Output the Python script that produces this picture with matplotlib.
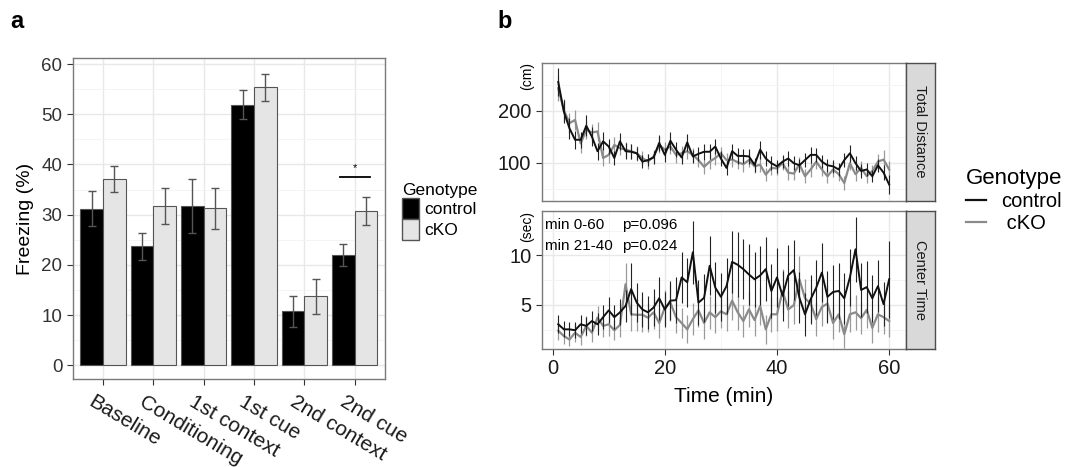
import matplotlib
matplotlib.use("Agg")
import matplotlib.pyplot as plt
import matplotlib.transforms as mtransforms
from matplotlib.patches import Patch
from matplotlib.lines import Line2D
import numpy as np

plt.rcParams['font.family'] = ['Liberation Sans', 'DejaVu Sans']

# ---- panel a: freezing ----
phases = ['Baseline', 'Conditioning', '1st context', '1st cue', '2nd context', '2nd cue']
ctrl_freeze = [31.2, 23.7, 31.7, 51.9, 10.8, 21.9]
ctrl_freeze_se = [3.5, 2.7, 5.4, 2.9, 3.1, 2.2]
cko_freeze = [37.2, 31.7, 31.3, 55.4, 13.8, 30.8]
cko_freeze_se = [2.6, 3.6, 4.1, 2.7, 3.5, 2.8]

# ---- panel b: open field, 1..60 min ----
minutes = list(range(1, 61))
ctrl_dist = [255, 198, 166, 144, 144, 171, 150, 122, 141, 131, 109, 141, 122, 121, 118, 102, 105, 110, 138, 115,
             142, 125, 110, 139, 112, 117, 121, 121, 131, 108, 90, 122, 113, 113, 112, 96, 125, 108, 99, 93,
             102, 108, 99, 95, 105, 115, 115, 102, 95, 93, 87, 105, 118, 99, 84, 87, 74, 95, 81, 58]
ctrl_dist_se = [26, 22, 20, 17, 15, 20, 18, 16, 17, 15, 14, 16, 15, 14, 13, 13, 12, 13, 15, 13,
                17, 14, 13, 16, 13, 14, 15, 14, 15, 14, 13, 14, 15, 14, 14, 13, 17, 14, 13, 12,
                13, 14, 13, 12, 13, 15, 14, 13, 13, 12, 13, 14, 16, 13, 14, 12, 12, 13, 14, 18]
cko_dist = [243, 201, 176, 182, 137, 163, 158, 160, 109, 115, 134, 128, 125, 122, 118, 109, 102, 112, 134, 125,
            131, 115, 118, 122, 115, 105, 92, 102, 109, 118, 105, 106, 101, 97, 105, 93, 96, 77, 90, 89,
            99, 81, 79, 97, 74, 87, 102, 87, 74, 87, 78, 61, 99, 78, 90, 74, 84, 102, 106, 87]
cko_dist_se = [24, 21, 19, 20, 18, 17, 16, 18, 16, 15, 15, 14, 15, 14, 14, 13, 14, 13, 15, 14,
               14, 15, 14, 15, 14, 13, 14, 15, 14, 13, 14, 15, 14, 14, 13, 13, 14, 13, 14, 13,
               14, 15, 13, 14, 13, 15, 14, 13, 13, 14, 13, 14, 14, 13, 14, 13, 12, 14, 18, 16]
ctrl_center = [3.04, 2.53, 2.53, 2.44, 3.04, 2.88, 3.37, 3.04, 3.76, 4.45, 3.76, 4.25, 4.90, 6.60, 5.23, 4.54,
               4.25, 4.74, 5.67, 4.54, 5.43, 5.48, 7.78, 7.29, 10.33, 5.23, 5.72, 8.96, 6.75, 5.82, 6.90, 9.35,
               9.06, 8.62, 8.08, 7.59, 7.98, 8.62, 6.41, 7.78, 5.92, 7.98, 8.52, 5.72, 4.05, 5.57, 6.75, 8.27,
               5.82, 6.31, 6.41, 5.67, 7.78, 10.63, 6.51, 6.80, 5.67, 6.90, 5.08, 7.59]
ctrl_center_se = [0.9, 0.8, 0.7, 0.8, 0.9, 0.9, 1.0, 1.1, 1.2, 1.3, 1.2, 1.3, 1.6, 2.6, 2.0, 1.8, 1.7, 1.9, 2.2, 1.8,
                  2.0, 2.3, 2.6, 2.5, 3.2, 2.3, 2.4, 3.0, 2.6, 2.4, 2.8, 3.1, 3.3, 3.0, 3.1, 2.8, 3.0, 3.2, 2.7, 3.0,
                  2.5, 3.1, 3.0, 2.6, 2.2, 2.5, 2.8, 3.0, 2.6, 2.7, 2.8, 2.6, 2.9, 3.3, 2.7, 2.6, 2.4, 2.6, 2.2, 3.9]
cko_center = [2.39, 1.85, 1.50, 2.19, 1.75, 2.88, 2.19, 3.71, 2.88, 3.04, 2.44, 2.97, 7.09, 4.05, 4.00, 4.00,
              3.71, 4.25, 3.17, 4.74, 5.23, 3.76, 3.17, 2.53, 3.56, 4.45, 3.17, 4.25, 3.76, 4.35, 4.05, 5.43,
              4.25, 3.37, 4.54, 3.47, 4.89, 2.53, 4.05, 4.05, 6.41, 4.54, 4.98, 7.59, 5.67, 5.13, 3.56, 4.79,
              5.13, 3.17, 4.05, 2.04, 4.05, 4.25, 3.66, 4.50, 2.68, 4.05, 3.76, 3.37]
cko_center_se = [0.9, 0.8, 0.7, 0.9, 0.8, 1.0, 0.9, 1.2, 1.1, 1.2, 1.0, 1.2, 2.2, 1.7, 1.6, 1.7, 1.5, 1.7, 1.5, 1.8,
                 1.9, 1.6, 1.5, 1.4, 1.6, 1.7, 1.6, 1.7, 1.6, 1.7, 1.7, 2.0, 1.8, 1.6, 1.8, 1.6, 1.9, 1.5, 1.8, 1.7,
                 2.2, 1.9, 1.9, 2.4, 2.0, 1.9, 1.7, 1.9, 1.9, 1.6, 1.8, 1.4, 1.8, 1.8, 1.6, 1.8, 1.5, 1.8, 1.7, 1.6]

W, H = 1073, 467
fig = plt.figure(figsize=(W / 100, H / 100), dpi=100)


def box(l, t, r, b):
    return [l / W, 1 - b / H, (r - l) / W, (b - t) / H]


def style_panel(ax):
    ax.set_facecolor('white')
    ax.grid(True, which='major', color='#e8e8e8', lw=1.0)
    ax.grid(True, which='minor', color='#f3f3f3', lw=0.6)
    ax.set_axisbelow(True)
    for s in ax.spines.values():
        s.set_color('#7a7a7a')
        s.set_linewidth(1.0)
    ax.tick_params(which='major', color='#333333', length=4, width=0.8)
    ax.tick_params(which='minor', length=0)


# ---------------- panel a ----------------
axa = fig.add_axes(box(72.7, 58, 385, 379))
style_panel(axa)
x = np.arange(len(phases))
bw = 0.45
axa.bar(x - bw / 2, ctrl_freeze, bw, color='black', edgecolor='#555555', lw=0.8, zorder=2)
axa.bar(x + bw / 2, cko_freeze, bw, color='#e5e5e5', edgecolor='#555555', lw=0.8, zorder=2)
axa.errorbar(x - bw / 2, ctrl_freeze, yerr=ctrl_freeze_se, fmt='none', ecolor='#555555',
             elinewidth=1.0, capsize=3, capthick=1.0, zorder=3)
axa.errorbar(x + bw / 2, cko_freeze, yerr=cko_freeze_se, fmt='none', ecolor='#555555',
             elinewidth=1.0, capsize=3, capthick=1.0, zorder=3)
axa.plot([4.70, 5.31], [37.6, 37.6], color='black', lw=1.3, zorder=3)
axa.text(5.0, 38.3, '*', ha='center', va='bottom', fontsize=8)
axa.set_xlim(-0.6, 5.6)
axa.set_ylim(-2.7, 61.2)
axa.set_yticks(range(0, 61, 10))
axa.set_yticks(range(5, 61, 10), minor=True)
axa.set_xticks(x)
axa.set_xticklabels(phases, rotation=-31, ha='left', va='top', rotation_mode='anchor', fontsize=15,
                    color='#1a1a1a')
off = mtransforms.ScaledTranslation(-0.08, -0.03, fig.dpi_scale_trans)
for lab in axa.get_xticklabels():
    lab.set_transform(lab.get_transform() + off)
axa.tick_params(axis='y', labelsize=13.5, labelcolor='#333333')
axa.set_ylabel('Freezing (%)', fontsize=14, labelpad=5)

fig.legend(handles=[Patch(facecolor='black', edgecolor='#555555'),
                    Patch(facecolor='#e5e5e5', edgecolor='#555555')],
           labels=['control', 'cKO'], title='Genotype', loc='upper left',
           bbox_to_anchor=(393 / W, 1 - 174 / H), frameon=False, fontsize=12.5,
           title_fontsize=12.5, handlelength=1.0, handleheight=1.5, handletextpad=0.3,
           labelspacing=0.0, borderpad=0, alignment='left')

# ---------------- panel b ----------------
axt = fig.add_axes(box(541.7, 62.7, 905.7, 200.7))
axc = fig.add_axes(box(541.7, 211, 905.7, 349))
for ax in (axt, axc):
    style_panel(ax)
    ax.set_xlim(-1.95, 62.95)
    ax.set_xticks([0, 20, 40, 60])
    ax.set_xticks([10, 30, 50], minor=True)
    ax.tick_params(axis='y', labelsize=14.5, labelcolor='#1a1a1a')

axt.errorbar(minutes, cko_dist, yerr=cko_dist_se, fmt='none', ecolor='#9a9a9a', elinewidth=0.9, zorder=2)
axt.errorbar(minutes, ctrl_dist, yerr=ctrl_dist_se, fmt='none', ecolor='#222222', elinewidth=0.8, zorder=3)
axt.plot(minutes, cko_dist, color='#8a8a8a', lw=1.6, zorder=2)
axt.plot(minutes, ctrl_dist, color='#111111', lw=1.4, zorder=4)
axt.set_ylim(27, 292)
axt.set_yticks([100, 200])
axt.set_yticks([50, 150, 250], minor=True)
axt.tick_params(axis='x', length=0, labelbottom=False)

axc.errorbar(minutes, cko_center, yerr=cko_center_se, fmt='none', ecolor='#9a9a9a', elinewidth=0.9, zorder=2)
axc.errorbar(minutes, ctrl_center, yerr=ctrl_center_se, fmt='none', ecolor='#222222', elinewidth=0.8, zorder=3)
axc.plot(minutes, cko_center, color='#8a8a8a', lw=1.6, zorder=2)
axc.plot(minutes, ctrl_center, color='#111111', lw=1.4, zorder=4)
axc.set_ylim(0.54, 14.5)
axc.set_yticks([5, 10])
axc.set_yticks([2.5, 7.5, 12.5], minor=True)
axc.tick_params(axis='x', labelsize=14.5, labelcolor='#1a1a1a')
axc.set_xlabel('Time (min)', fontsize=15, labelpad=6)

# stats annotation
fig.text(545 / W, 1 - 225 / H, 'min 0-60', fontsize=11, va='center', ha='left')
fig.text(545 / W, 1 - 246 / H, 'min 21-40', fontsize=11, va='center', ha='left')
fig.text(622 / W, 1 - 225 / H, 'p=0.096', fontsize=11, va='center', ha='left')
fig.text(622 / W, 1 - 246 / H, 'p=0.024', fontsize=11, va='center', ha='left')

# facet strips
for (t, b), lab in [((62.7, 200.7), 'Total Distance'), ((211, 349), 'Center Time')]:
    sax = fig.add_axes(box(905.7, t, 935, b))
    sax.set_facecolor('#d9d9d9')
    sax.set_xticks([])
    sax.set_yticks([])
    for s in sax.spines.values():
        s.set_color('#4d4d4d')
        s.set_linewidth(1.0)
    sax.text(0.5, 0.5, lab, rotation=-90, ha='center', va='center', fontsize=10.5,
             color='#1a1a1a', transform=sax.transAxes)

fig.text(527 / W, 1 - 76 / H, '(cm)', rotation=90, ha='center', va='center', fontsize=10)
fig.text(527 / W, 1 - 226 / H, '(sec)', rotation=90, ha='center', va='center', fontsize=10)

fig.legend(handles=[Line2D([], [], color='#111111', lw=1.6), Line2D([], [], color='#8a8a8a', lw=1.6)],
           labels=['control', ' cKO'], title='Genotype', loc='upper left',
           bbox_to_anchor=(956 / W, 1 - 158 / H), frameon=False, fontsize=14.5,
           title_fontsize=16, handlelength=1.0, handletextpad=0.75, labelspacing=0.15,
           borderpad=0, alignment='left')

fig.text(10 / W, 1 - 22 / H, 'a', fontsize=17, fontweight='bold', va='center', ha='left')
fig.text(497 / W, 1 - 22 / H, 'b', fontsize=17, fontweight='bold', va='center', ha='left')

fig.savefig('out.png', dpi=100, facecolor='white')
